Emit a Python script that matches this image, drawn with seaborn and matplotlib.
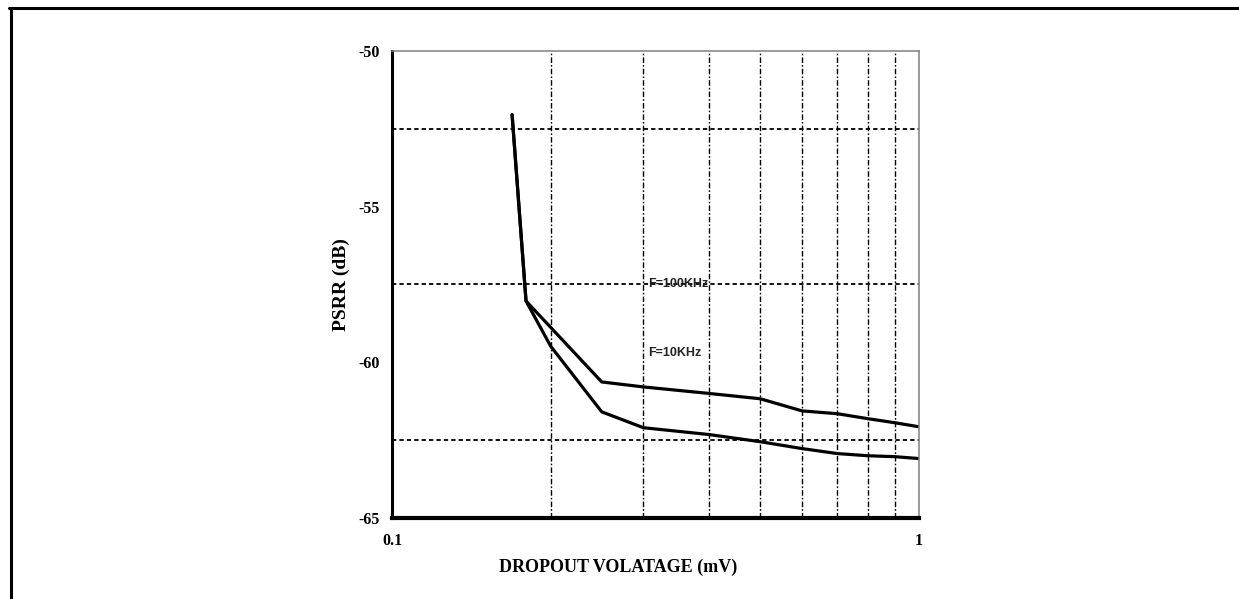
import numpy as np
import pandas as pd
import matplotlib
matplotlib.use('Agg')
import matplotlib.pyplot as plt
import matplotlib.ticker as mticker
from matplotlib.lines import Line2D
import seaborn as sns

# values
vin_upper = [0.169, 0.1796, 0.25, 0.3, 0.4, 0.5, 0.6, 0.7, 0.8, 0.9, 1.0]
psrr_upper = [-52.05, -58.03, -60.63, -60.79, -61.0, -61.17, -61.56, -61.65, -61.81, -61.94, -62.07]
vin_lower = [0.169, 0.1796, 0.2, 0.25, 0.3, 0.4, 0.5, 0.6, 0.7, 0.8, 0.9, 1.0]
psrr_lower = [-52.05, -58.03, -59.48, -61.59, -62.10, -62.32, -62.55, -62.77, -62.93, -63.0, -63.03, -63.09]
y_ticks = [-65, -60, -55, -50]
y_grid = [-62.5, -57.5, -52.5]
x_ticks = [0.1, 1]
x_tick_labels = ['0.1', '1']

sns.set_style('white')
plt.rcParams['font.family'] = ['Liberation Serif', 'DejaVu Serif']
plt.rcParams['text.color'] = 'black'
plt.rcParams['axes.labelcolor'] = 'black'
plt.rcParams['xtick.color'] = 'black'
plt.rcParams['ytick.color'] = 'black'

df_up = pd.DataFrame({'x': vin_upper, 'y': psrr_upper})
df_lo = pd.DataFrame({'x': vin_lower, 'y': psrr_lower})

fig = plt.figure(figsize=(12.39, 5.99), dpi=100)
ax = fig.add_axes([0.3164, 0.1352, 0.4253, 0.7797])

sns.lineplot(data=df_up, x='x', y='y', sort=False, estimator=None, color='black', lw=2.3, ax=ax)
sns.lineplot(data=df_lo, x='x', y='y', sort=False, estimator=None, color='black', lw=2.3, ax=ax)

ax.set_xscale('log')
ax.set_xlim(0.1, 1)
ax.set_ylim(-65, -50)

ax.set_xticks(x_ticks)
ax.set_xticklabels(x_tick_labels)
ax.xaxis.set_minor_locator(mticker.LogLocator(base=10, subs=np.arange(2, 10)))
ax.xaxis.set_minor_formatter(mticker.NullFormatter())
ax.set_yticks(y_ticks)
ax.set_yticklabels([str(v) for v in y_ticks])
ax.yaxis.set_minor_locator(mticker.FixedLocator(y_grid))

ax.tick_params(axis='y', which='major', direction='in', length=5, width=1.5, pad=9, labelsize=11.5)
ax.tick_params(axis='x', which='major', length=0, pad=11, labelsize=11.5)
ax.tick_params(which='minor', length=0)
for lab in ax.get_xticklabels() + ax.get_yticklabels():
    lab.set_fontweight('bold')

ax.grid(False)
ax.grid(which='minor', axis='x', color='black', lw=1.0, linestyle=(0, (4, 1.5, 1.2, 1.5)))
ax.grid(which='minor', axis='y', color='black', lw=1.3, linestyle=(0, (2.4, 1.7)))

ax.spines['left'].set_linewidth(2.2)
ax.spines['left'].set_color('black')
ax.spines['bottom'].set_linewidth(3.0)
ax.spines['bottom'].set_color('black')
for s in ['top', 'right']:
    ax.spines[s].set_color('#808080')
    ax.spines[s].set_linewidth(1.1)
for s in ax.spines.values():
    s.set_zorder(3)

ax.set_xlabel('DROPOUT VOLATAGE (mV)', fontsize=13, fontweight='bold')
ax.xaxis.label.set_va('center')
ax.xaxis.set_label_coords(0.43, -0.105)
ax.set_ylabel('PSRR (dB)', fontsize=14, fontweight='bold')
ax.yaxis.label.set_va('center')
ax.yaxis.set_label_coords(-0.097, 0.5)

ax.text(0.35, -57.5, 'F=100KHz', family=['Liberation Sans', 'DejaVu Sans'], fontsize=9,
        fontweight='bold', color='#222222', ha='center', va='center')
ax.text(0.344, -59.7, 'F=10KHz', family=['Liberation Sans', 'DejaVu Sans'], fontsize=9,
        fontweight='bold', color='#222222', ha='center', va='center')

# outer frame (top and left edges only)
fig.add_artist(Line2D([9 / 1239, 1.0], [1 - 8 / 599, 1 - 8 / 599], color='black', lw=2.2,
                      transform=fig.transFigure))
fig.add_artist(Line2D([11 / 1239, 11 / 1239], [1 - 8 / 599, 0.0], color='black', lw=2.2,
                      transform=fig.transFigure))

fig.savefig('out.png', dpi=100)
